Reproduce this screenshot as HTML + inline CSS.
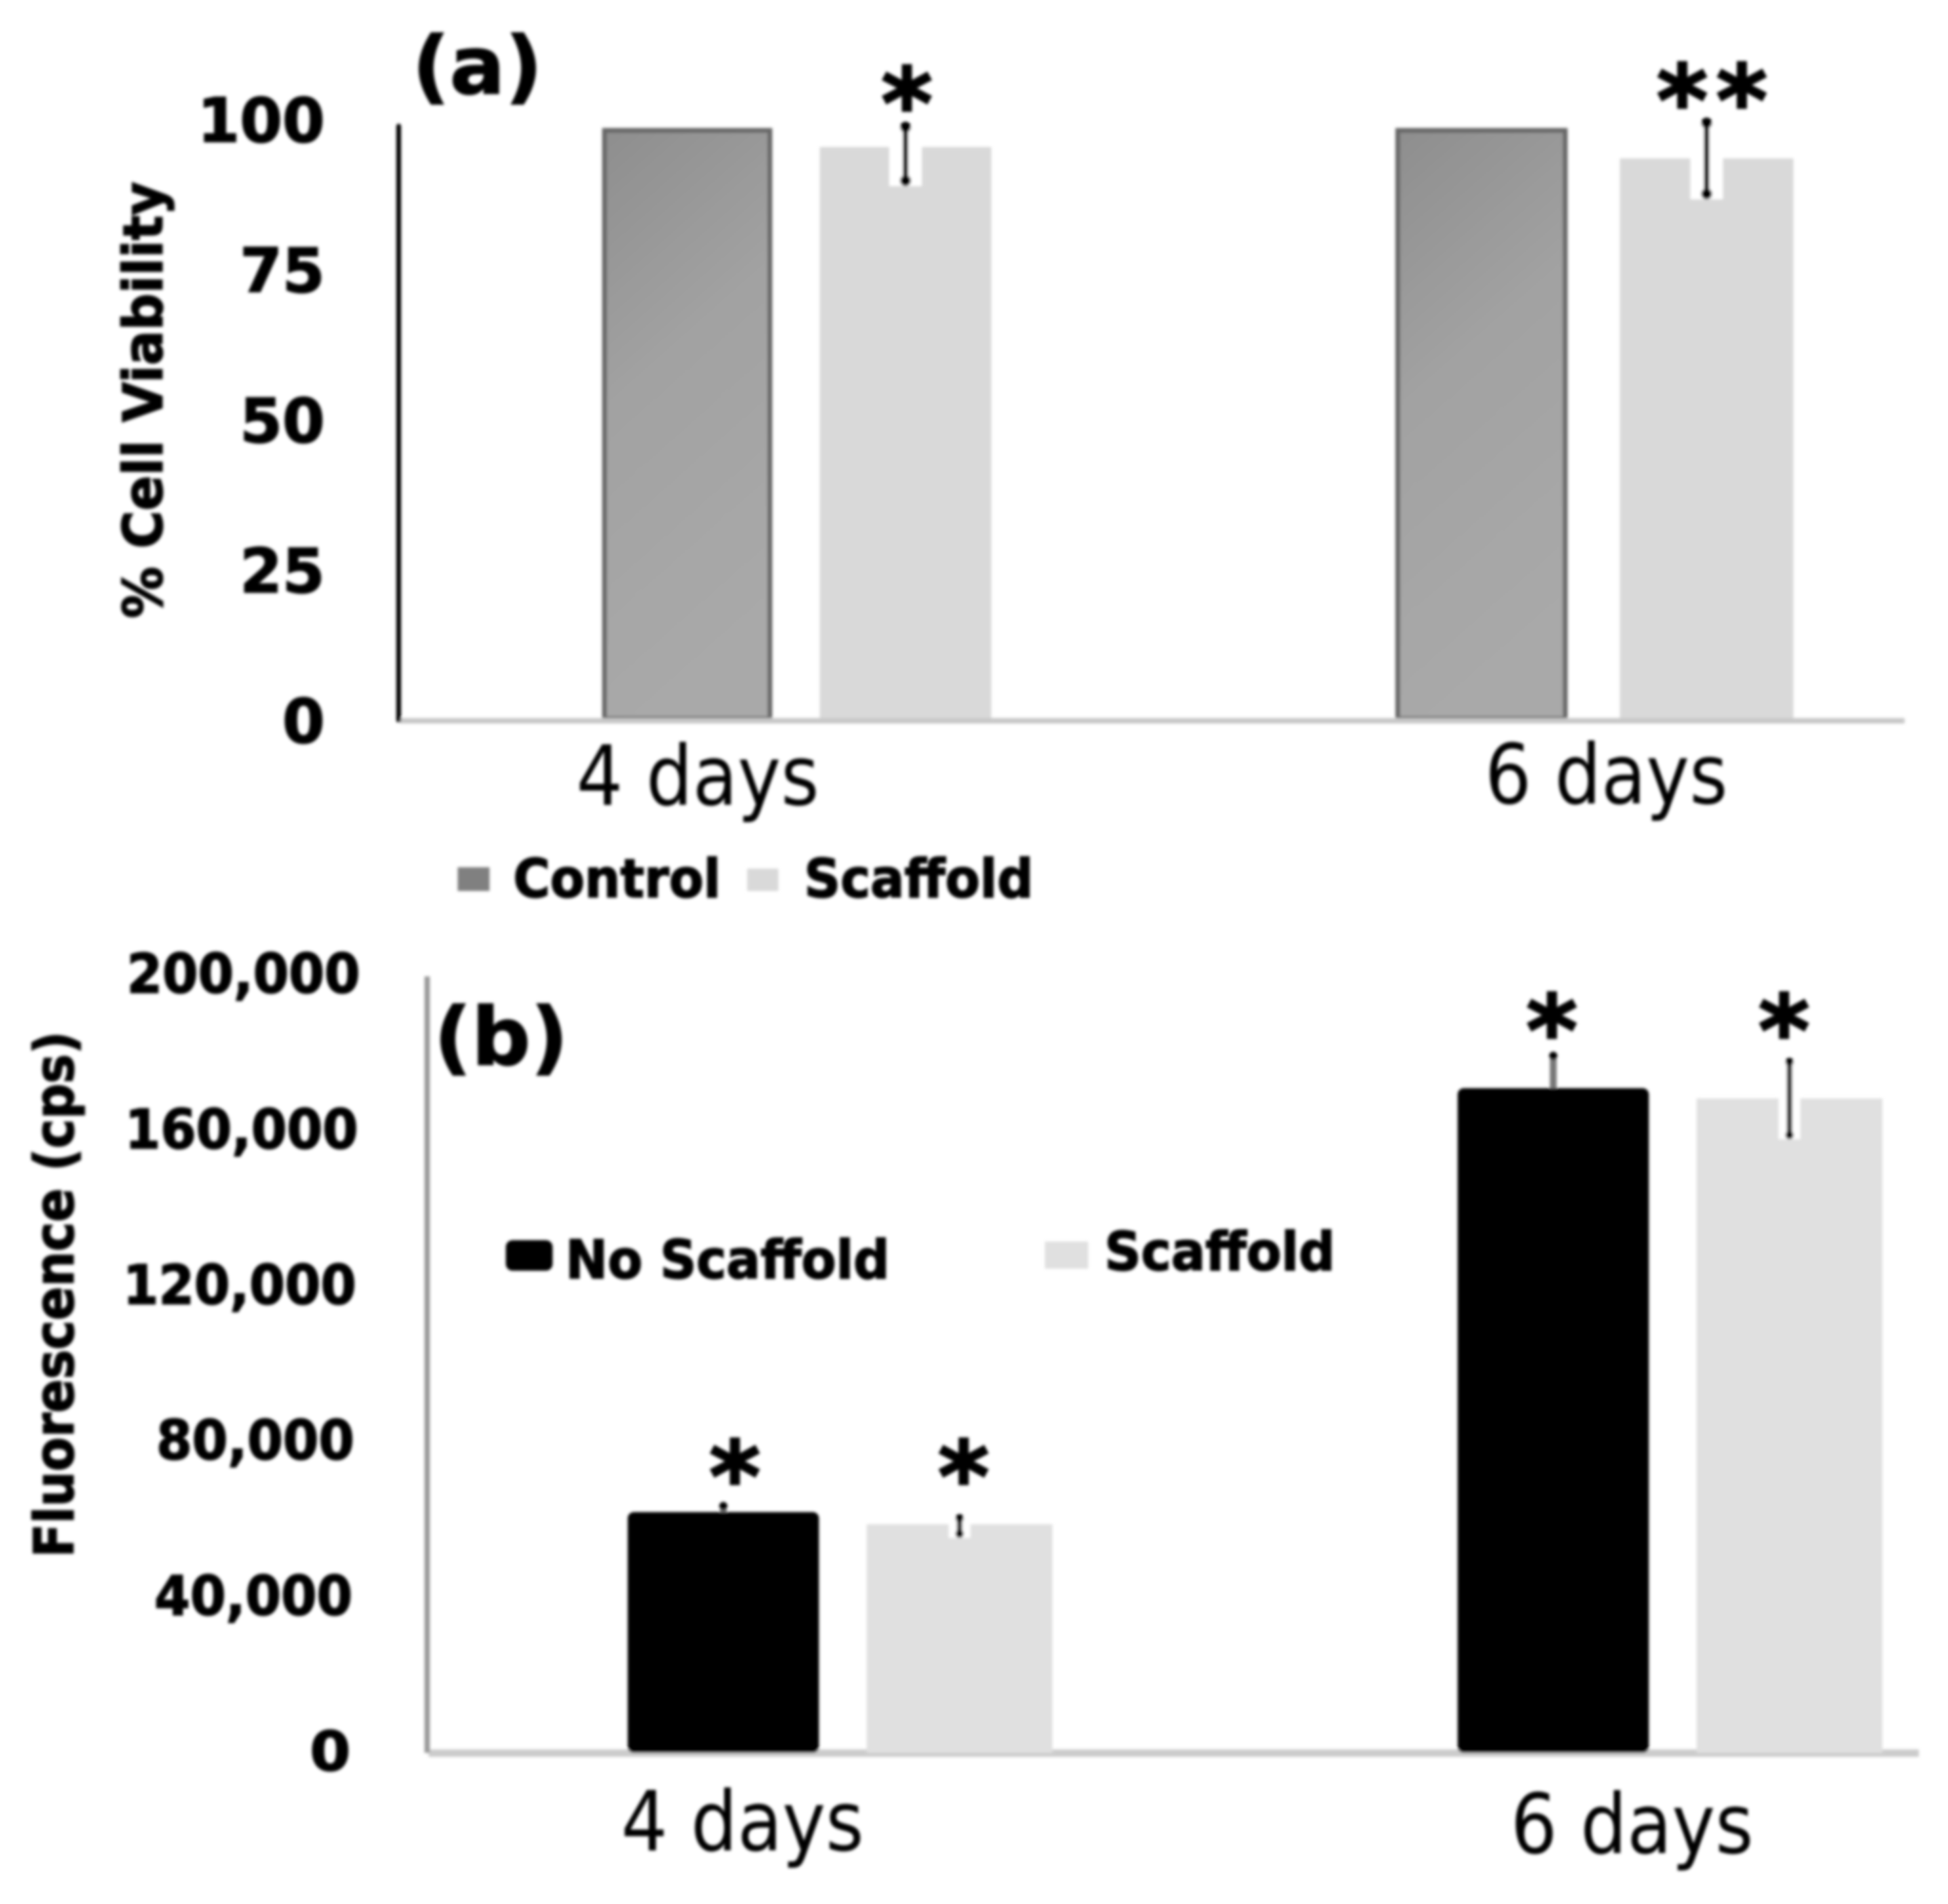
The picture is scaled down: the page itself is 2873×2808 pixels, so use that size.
<!DOCTYPE html>
<html lang="en">
<head>
<meta charset="utf-8">
<title>Cell viability and fluorescence bar charts</title>
<style>
html,body{margin:0;padding:0;background:#fff;width:2873px;height:2808px;overflow:hidden}
svg{display:block}
text{font-family:"DejaVu Sans","Liberation Sans",sans-serif;fill:#000}
.b{font-weight:700;stroke:#000;stroke-width:1.8px}
.s{font-weight:700;stroke:#000;stroke-width:3px}
</style>
</head>
<body>
<svg id="figure" xmlns="http://www.w3.org/2000/svg" width="2873" height="2808" viewBox="0 0 2873 2808">
<defs>
<filter id="soft" x="-5%" y="-5%" width="110%" height="110%"><feGaussianBlur stdDeviation="2.2"/></filter>
<linearGradient id="controlFill" x1="0" y1="0" x2="0.25" y2="1">
<stop offset="0" stop-color="#8e8e8e"/><stop offset="0.45" stop-color="#a2a2a2"/><stop offset="1" stop-color="#a9a9a9"/>
</linearGradient>
</defs>
<rect width="2873" height="2808" fill="#ffffff"/>
<g id="root" filter="url(#soft)">
<g id="panelA">
<text class="b" x="608" y="138" font-size="118" textLength="192" lengthAdjust="spacingAndGlyphs">(a)</text>
<text class="b" transform="translate(239 912) rotate(-90)" font-size="80" textLength="644" lengthAdjust="spacingAndGlyphs">% Cell Viability</text>
<rect x="675" y="1279" width="47" height="35" fill="#808080"/>
<text class="b" x="757" y="1323" font-size="78" textLength="306" lengthAdjust="spacingAndGlyphs">Control</text>
<rect x="1102" y="1281" width="46" height="33" fill="#d9d9d9"/>
<text class="b" x="1186" y="1323" font-size="78" textLength="338" lengthAdjust="spacingAndGlyphs">Scaffold</text>
</g>
<g id="panelB">
<text class="b" x="640" y="1570" font-size="118" textLength="198" lengthAdjust="spacingAndGlyphs">(b)</text>
<text class="b" transform="translate(108 2297) rotate(-90)" font-size="80" textLength="776" lengthAdjust="spacingAndGlyphs">Fluorescence (cps)</text>
<rect x="746" y="1829" width="69" height="45" rx="10" fill="#000000"/>
<text class="b" x="834" y="1885" font-size="78" textLength="478" lengthAdjust="spacingAndGlyphs">No Scaffold</text>
<rect x="1541" y="1831" width="64" height="40" fill="#e0e0e0"/>
<text class="b" x="1629" y="1873" font-size="78" textLength="340" lengthAdjust="spacingAndGlyphs">Scaffold</text>
</g>
</g>
</svg>
<script>
// Panel (a) data: % cell viability
const aCategories = ['4 days', '6 days'];
const aTicks = [0, 25, 50, 75, 100];
const aControl = [98.5, 98.5];
const aScaffold = [95.4, 93.5];
const aScaffoldErrHigh = [98.7, 99.4];
const aScaffoldErrLow = [89.8, 87.6];
const aStarLevel = [105, 105.5];
const aStarLabels = ['*', '**'];

// Panel (b) data: fluorescence (cps)
const bCategories = ['4 days', '6 days'];
const bTicks = [0, 40000, 80000, 120000, 160000, 200000];
const bNoScaffold = [61900, 170900];
const bScaffold = [58760, 168270];
const bNoScaffoldErrHigh = [63470, 179250];
const bNoScaffoldErrLow = [61900, 170900];
const bScaffoldErrHigh = [60330, 177680];
const bScaffoldErrLow = [56320, 158850];
const bStarLevel = [74630, 189360];

// Axis functions
const aY = v => 1062 - v * 8.86;
const bY = v => 2585 - v * 0.005735;
const aCenter = (i, s) => 1174.5 + 1176.5 * i + (s === 0 ? -1 : 1) * (161 + 5 * i);
const bCenter = (i, s) => 1241 + 1224 * i + (s === 0 ? -1 : 1) * 174.2;
const aWidth = (i, s) => (s === 0 ? 250 : 253) + 3 * i;
const bWidth = s => (s === 0 ? 282 : 274);

const NS = 'http://www.w3.org/2000/svg';
const panelA = document.getElementById('panelA');
const panelB = document.getElementById('panelB');
function mk(parent, tag, attrs, txt) {
  const el = document.createElementNS(NS, tag);
  for (const k in attrs) el.setAttribute(k, attrs[k]);
  if (txt !== undefined) el.textContent = txt;
  parent.appendChild(el);
  return el;
}
function fmt(v) { return String(v).replace(/\B(?=(\d{3})+$)/g, ','); }
let el;

// ---- Panel (a) ----
aTicks.forEach(t => {
  el = mk(panelA, 'text', {class: 'b', x: 479, y: aY(t) + 33, 'font-size': 90, 'text-anchor': 'end'}, String(t));
  
  
});
aCategories.forEach((c, i) => {
  // control bar
  let w = aWidth(i, 0), cx = aCenter(i, 0);
  el = mk(panelA, 'rect', {x: cx - w / 2 + 3, y: aY(aControl[i]) + 3, width: w - 6, height: aY(0) - aY(aControl[i]) - 5, fill: 'url(#controlFill)', stroke: '#676767', 'stroke-width': 7});
  
  
  // scaffold bar
  w = aWidth(i, 1); cx = aCenter(i, 1);
  el = mk(panelA, 'rect', {x: cx - w / 2, y: aY(aScaffold[i]), width: w, height: aY(0) - aY(aScaffold[i]), fill: '#d9d9d9'});
  
  
  // error bar
  el = mk(panelA, 'rect', {x: cx - 24, y: aY(aScaffoldErrHigh[i]), width: 48, height: aY(aScaffoldErrLow[i]) - aY(aScaffoldErrHigh[i]) + 8, fill: '#ffffff'});
  
  
  el = mk(panelA, 'line', {x1: cx, x2: cx, y1: aY(aScaffoldErrHigh[i]), y2: aY(aScaffoldErrLow[i]), stroke: '#000', 'stroke-width': 8, 'stroke-linecap': 'round'});
  
  
  [aScaffoldErrHigh[i], aScaffoldErrLow[i]].forEach(v => {
    el = mk(panelA, 'circle', {cx: cx, cy: aY(v), r: 8, fill: '#000'});
    
    
  });
  // significance stars
  el = mk(panelA, 'text', {class: 's', x: cx + 8 + 6 * i, y: aY(aStarLevel[i]) + 72, 'font-size': 145, 'text-anchor': 'middle', 'letter-spacing': 12}, aStarLabels[i]);
  
  
  // category label
  el = mk(panelA, 'text', {x: 1029 + 1340 * i, y: 1187 - 2 * i, 'font-size': 122, 'text-anchor': 'middle', textLength: 358, lengthAdjust: 'spacingAndGlyphs'}, c);
  
  
});
el = mk(panelA, 'rect', {x: 590, y: aY(0) - 3, width: 2219, height: 8, fill: '#c8c8c8'});


el = mk(panelA, 'line', {x1: 588, x2: 588, y1: aY(100) + 10, y2: aY(0), stroke: '#000', 'stroke-width': 7, 'stroke-linecap': 'round'});



// ---- Panel (b) ----
bTicks.forEach(t => {
  const label = fmt(t);
  const len = label.length === 7 ? 344 : (label.length === 6 ? 292 : 60);
  el = mk(panelB, 'text', {class: 'b', x: 517 + t / 200000 * 14 - len, y: bY(t) + 26, 'font-size': 80, textLength: len, lengthAdjust: 'spacingAndGlyphs'}, label);
  
  
});
el = mk(panelB, 'rect', {x: 632, y: bY(0) - 5, width: 2198, height: 11, fill: '#cccccc'});


el = mk(panelB, 'rect', {x: 626, y: 1440, width: 8, height: bY(0) - 1440, fill: '#9a9a9a'});


bCategories.forEach((c, i) => {
  let w = bWidth(0), cx = bCenter(i, 0);
  el = mk(panelB, 'rect', {x: cx - w / 2, y: bY(bNoScaffold[i]), width: w, height: bY(0) - bY(bNoScaffold[i]), rx: 9, fill: '#000'});
  
  
  el = mk(panelB, 'line', {x1: cx, x2: cx, y1: bY(bNoScaffoldErrHigh[i]), y2: bY(bNoScaffoldErrLow[i]), stroke: '#777', 'stroke-width': 10});
  
  
  el = mk(panelB, 'circle', {cx: cx, cy: bY(bNoScaffoldErrHigh[i]), r: 6, fill: '#000'});
  
  
  el = mk(panelB, 'text', {class: 's', x: cx + 17 - 19 * i, y: bY(bStarLevel[i]) + 72, 'font-size': 145, 'text-anchor': 'middle'}, '*');
  
  

  w = bWidth(1); cx = bCenter(i, 1);
  el = mk(panelB, 'rect', {x: cx - w / 2, y: bY(bScaffold[i]), width: w, height: bY(0) - bY(bScaffold[i]), fill: '#e0e0e0'});
  
  
  el = mk(panelB, 'rect', {x: cx - 16, y: bY(bScaffoldErrHigh[i]), width: 32, height: bY(bScaffoldErrLow[i]) - bY(bScaffoldErrHigh[i]) + 6, fill: '#ffffff'});
  
  
  el = mk(panelB, 'line', {x1: cx, x2: cx, y1: bY(bScaffoldErrHigh[i]), y2: bY(bScaffoldErrLow[i]), stroke: '#333', 'stroke-width': 8});
  
  
  [bScaffoldErrHigh[i], bScaffoldErrLow[i]].forEach(v => {
    el = mk(panelB, 'circle', {cx: cx, cy: bY(v), r: 6, fill: '#000'});
    
    
  });
  el = mk(panelB, 'text', {class: 's', x: cx + 6 - 14 * i, y: bY(bStarLevel[i]) + 72, 'font-size': 145, 'text-anchor': 'middle'}, '*');
  
  

  el = mk(panelB, 'text', {x: 1095 + 1312 * i, y: 2729 + 4 * i, 'font-size': 122, 'text-anchor': 'middle', textLength: 358, lengthAdjust: 'spacingAndGlyphs'}, c);
  
  
});
</script>
</body>
</html>
